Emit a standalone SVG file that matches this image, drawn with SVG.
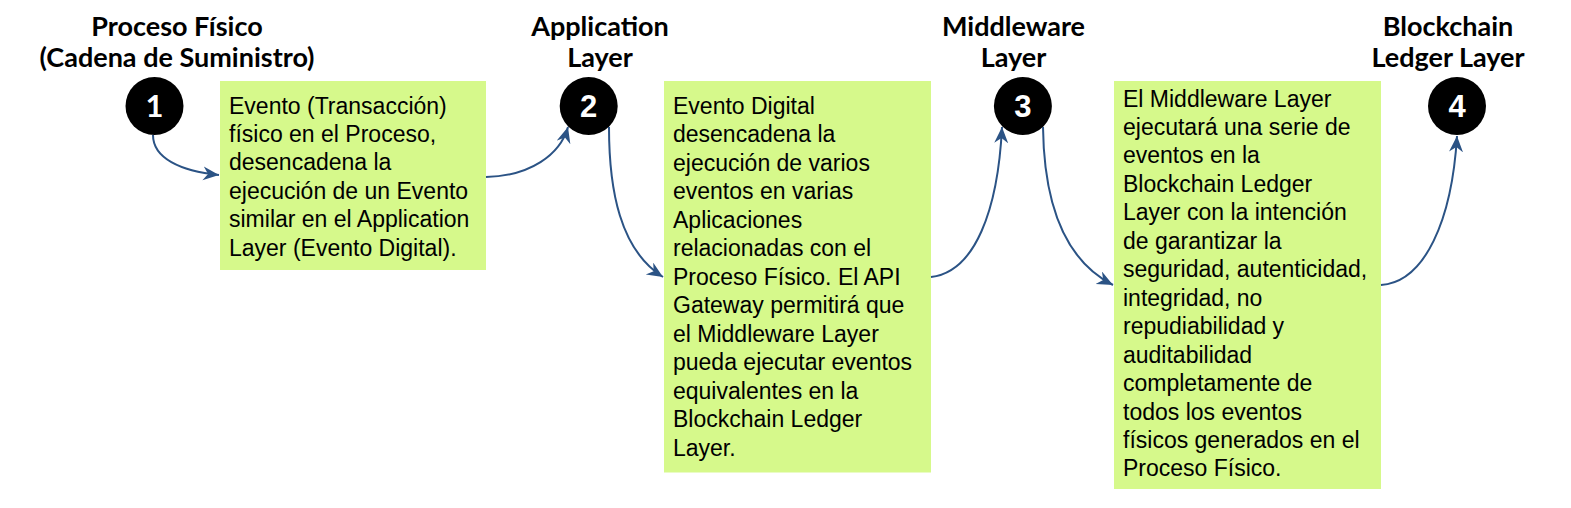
<svg xmlns="http://www.w3.org/2000/svg" width="1571" height="508" viewBox="0 0 1571 508">
<style>
.title{font-family:Lato,"Liberation Sans",sans-serif;font-weight:bold;font-size:27px;fill:#000;text-anchor:middle}
.circ{fill:#000}
.num{font-family:"Liberation Sans",Arial,sans-serif;font-weight:bold;font-size:31px;fill:#fff;text-anchor:middle}
.box{fill:#d6f98b}
.body{font-family:"Liberation Sans",Arial,sans-serif;font-size:23px;fill:#000}
.conn{fill:none;stroke:#2b5385;stroke-width:2}
</style>
<defs>
<marker id="arr" markerUnits="userSpaceOnUse" markerWidth="18" markerHeight="16" refX="16" refY="7" orient="auto" viewBox="0 0 18 16">
<path d="M0,0 L16,7 L0,14 L5,7 z" fill="#2b5385"/>
</marker>
</defs>
<rect width="1571" height="508" fill="#fff"/>
<g id="node1">
<text class="title" x="177" y="35.5">Proceso Físico</text>
<text class="title" x="177" y="66.5">(Cadena de Suministro)</text>
<circle class="circ" cx="154.5" cy="106" r="29"/>
<text class="num" x="154.5" y="117" style="font-family:Lato,'Liberation Sans',sans-serif">1</text>
</g>
<g id="node2">
<text class="title" x="600" y="35.5">Application</text>
<text class="title" x="600" y="66.5">Layer</text>
<circle class="circ" cx="588.7" cy="106" r="29"/>
<text class="num" x="588.7" y="117">2</text>
</g>
<g id="node3">
<text class="title" x="1013.5" y="35.5">Middleware</text>
<text class="title" x="1013.5" y="66.5">Layer</text>
<circle class="circ" cx="1022.9" cy="106" r="29"/>
<text class="num" x="1022.9" y="117">3</text>
</g>
<g id="node4">
<text class="title" x="1448" y="35.5">Blockchain</text>
<text class="title" x="1448" y="66.5">Ledger Layer</text>
<circle class="circ" cx="1457" cy="106" r="29"/>
<text class="num" x="1457" y="117">4</text>
</g>
<g id="box1">
<rect class="box" x="220" y="81" width="266" height="189"/>
<text class="body" x="229" y="113.5">
<tspan x="229" dy="0">Evento (Transacción)</tspan>
<tspan x="229" dy="28.46">físico en el Proceso,</tspan>
<tspan x="229" dy="28.46">desencadena la</tspan>
<tspan x="229" dy="28.46">ejecución de un Evento</tspan>
<tspan x="229" dy="28.46">similar en el Application</tspan>
<tspan x="229" dy="28.46">Layer (Evento Digital).</tspan>
</text>
</g>
<g id="box2">
<rect class="box" x="664" y="81" width="267" height="391.5"/>
<text class="body" x="673" y="114">
<tspan x="673" dy="0">Evento Digital</tspan>
<tspan x="673" dy="28.46">desencadena la</tspan>
<tspan x="673" dy="28.46">ejecución de varios</tspan>
<tspan x="673" dy="28.46">eventos en varias</tspan>
<tspan x="673" dy="28.46">Aplicaciones</tspan>
<tspan x="673" dy="28.46">relacionadas con el</tspan>
<tspan x="673" dy="28.46">Proceso Físico. El API</tspan>
<tspan x="673" dy="28.46">Gateway permitirá que</tspan>
<tspan x="673" dy="28.46">el Middleware Layer</tspan>
<tspan x="673" dy="28.46">pueda ejecutar eventos</tspan>
<tspan x="673" dy="28.46">equivalentes en la</tspan>
<tspan x="673" dy="28.46">Blockchain Ledger</tspan>
<tspan x="673" dy="28.46">Layer.</tspan>
</text>
</g>
<g id="box3">
<rect class="box" x="1114" y="81" width="267" height="408"/>
<text class="body" x="1123" y="106.5">
<tspan x="1123" dy="0">El Middleware Layer</tspan>
<tspan x="1123" dy="28.46">ejecutará una serie de</tspan>
<tspan x="1123" dy="28.46">eventos en la</tspan>
<tspan x="1123" dy="28.46">Blockchain Ledger</tspan>
<tspan x="1123" dy="28.46">Layer con la intención</tspan>
<tspan x="1123" dy="28.46">de garantizar la</tspan>
<tspan x="1123" dy="28.46">seguridad, autenticidad,</tspan>
<tspan x="1123" dy="28.46">integridad, no</tspan>
<tspan x="1123" dy="28.46">repudiabilidad y</tspan>
<tspan x="1123" dy="28.46">auditabilidad</tspan>
<tspan x="1123" dy="28.46">completamente de</tspan>
<tspan x="1123" dy="28.46">todos los eventos</tspan>
<tspan x="1123" dy="28.46">físicos generados en el</tspan>
<tspan x="1123" dy="28.46">Proceso Físico.</tspan>
</text>
</g>
<g id="connectors">
<path class="conn" marker-end="url(#arr)" d="M153,135 C153,158 180,171 219,175"/>
<path class="conn" marker-end="url(#arr)" d="M486,177 C530,176 560,155 568,127"/>
<path class="conn" marker-end="url(#arr)" d="M609,127 C609,190 620,250 663,277"/>
<path class="conn" marker-end="url(#arr)" d="M931,277 C975,272 998,210 1002,127"/>
<path class="conn" marker-end="url(#arr)" d="M1043,127 C1044,210 1068,262 1113,285"/>
<path class="conn" marker-end="url(#arr)" d="M1381,285 C1425,282 1452,220 1457,136"/>
</g>
</svg>
